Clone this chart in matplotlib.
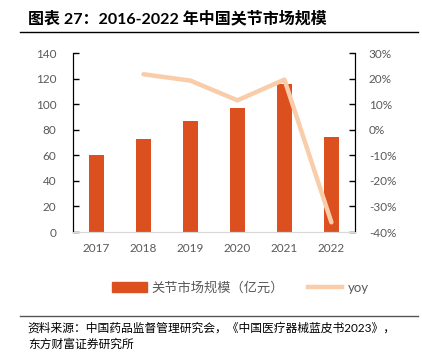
import matplotlib
matplotlib.use("Agg")

import matplotlib.pyplot as plt
from matplotlib.lines import Line2D
from matplotlib.ticker import FuncFormatter

plt.rcParams['font.family'] = ['Lato', 'Noto Sans CJK SC', 'DejaVu Sans']

years = ["2017", "2018", "2019", "2020", "2021", "2022"]
market = [60, 73, 87, 97, 116, 74]
yoy_years = ["2018", "2019", "2020", "2021", "2022"]
yoy = [21.7, 19.2, 11.5, 19.6, -36.2]

bar_color = "#DC4F1E"
line_color = "#F9CCAA"
grey = "#595959"

fig = plt.figure(figsize=(4.22, 3.57), dpi=100)
ax = fig.add_axes([0.173, 0.35, 0.668, 0.5015])

x = list(range(len(years)))
ax.bar(x, market, width=0.32, color=bar_color, zorder=2)
ax.set_xlim(-0.5, 5.5)
ax.set_ylim(0, 140)
ax.set_yticks(range(0, 141, 20))
ax.set_xticks(x)
ax.set_xticklabels(years)

ax2 = ax.twinx()
yx = [years.index(y) for y in yoy_years]
ax2.plot(yx, yoy, color=line_color, lw=3.2, solid_capstyle="round", zorder=3)
ax2.set_ylim(-40, 30)
ax2.set_yticks(range(-40, 31, 10))
ax2.yaxis.set_major_formatter(FuncFormatter(lambda v, p: f"{int(v)}%"))

for a in (ax, ax2):
    a.spines["top"].set_visible(False)
    a.spines["left"].set_color("black")
    a.spines["right"].set_color("black")
    a.spines["bottom"].set_color("#D9D9D9")
    a.tick_params(axis="y", direction="in", length=4, width=1, color="black",
                  labelsize=8.5, labelcolor=grey)
    a.tick_params(axis="x", length=0, labelsize=8.5, labelcolor=grey, pad=8)
ax2.tick_params(axis="y", pad=10)
ax.tick_params(axis="y", pad=12)

handles = [plt.Rectangle((0, 0), 1, 1, color=bar_color),
           Line2D([0], [0], color=line_color, lw=3.2)]
fig.legend(handles, ["关节市场规模（亿元）", "yoy"], loc="center",
           bbox_to_anchor=(0.57, 0.195), ncol=2, frameon=False,
           fontsize=9.5, labelcolor=grey, handlelength=2.6, columnspacing=1.8,
           handletextpad=0.4)

fig.text(0.066, 0.948, "图表 27：2016-2022 年中国关节市场规模", fontsize=11.5,
         fontweight="bold", va="center", ha="left")
fig.add_artist(Line2D([0.047, 0.99], [0.91, 0.91], color="black", lw=1))
fig.add_artist(Line2D([0.047, 0.99], [0.115, 0.115], color="#555555", lw=1))
fig.text(0.066, 0.082, "资料来源：中国药品监督管理研究会，《中国医疗器械蓝皮书2023》，",
         fontsize=8.5, va="center", ha="left")
fig.text(0.066, 0.037, "东方财富证券研究所", fontsize=8.5, va="center", ha="left")

fig.savefig("out.png", dpi=100)
